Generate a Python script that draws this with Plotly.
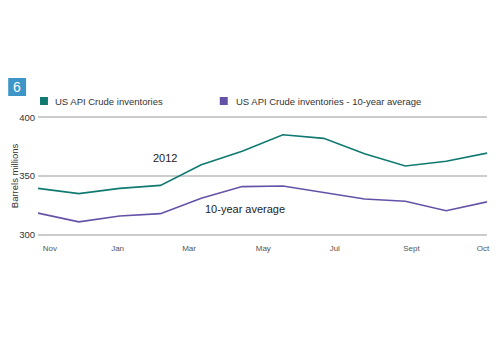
import plotly.graph_objects as go

months = ["Nov", "Dec", "Jan", "Feb", "Mar", "Apr", "May", "Jun", "Jul", "Aug", "Sep", "Oct"]
crude_2012 = [339.5, 335, 339.5, 342, 359.5, 371, 385, 382, 369, 358.5, 362.5, 369.5]
crude_avg = [318.5, 311, 316, 318, 331, 341, 341.5, 336, 330.5, 328.5, 320.5, 328]
tick_labels = ["Nov", "Jan", "Mar", "May", "Jul", "Sept", "Oct"]
tick_pos = [0.29, 1.95, 3.70, 5.52, 7.27, 9.15, 10.9]

GREEN = "#107a70"
PURPLE = "#6552a8"
FONT = "Liberation Sans, Arial, sans-serif"

PT, PB, PL, PR = 116, 236, 38, 490  # plot area in pixels

x = list(range(len(months)))

fig = go.Figure()
fig.add_trace(go.Scatter(x=x, y=crude_2012, mode="lines", name="US API Crude inventories",
                         line=dict(color=GREEN, width=1.6), showlegend=False))
fig.add_trace(go.Scatter(x=x, y=crude_avg, mode="lines", name="US API Crude inventories - 10-year average",
                         line=dict(color=PURPLE, width=1.6), showlegend=False))

fig.update_layout(
    width=500, height=350,
    margin=dict(l=PL, r=500 - PR, t=PT, b=350 - PB),
    paper_bgcolor="white", plot_bgcolor="white",
    font=dict(family=FONT, color="#333333", size=9),
    xaxis=dict(range=[0, 11], tickvals=tick_pos, ticktext=tick_labels, showgrid=False,
               zeroline=False, showline=False, ticks="", tickfont=dict(size=8, color="#555555"),
               ticklabelstandoff=6),
    yaxis=dict(range=[299, 401], tickvals=[300, 350, 400], showgrid=True, gridcolor="#cccccc",
               gridwidth=2, zeroline=False, showline=False, ticks="", tickfont=dict(size=9.5, color="#333"),
               ticklabelstandoff=2),
)

def px(xp):
    return (xp - PL) / (PR - PL)

def py(yp):
    return (PB - yp) / (PB - PT)

fig.update_layout(shapes=[
    dict(type="rect", xref="paper", yref="paper",
         x0=px(8), x1=px(26), y0=py(78), y1=py(96),
         fillcolor="#3d95c8", line=dict(width=0)),
    dict(type="rect", xref="paper", yref="paper",
         x0=px(40), x1=px(48), y0=py(97), y1=py(105),
         fillcolor=GREEN, line=dict(width=0)),
    dict(type="rect", xref="paper", yref="paper",
         x0=px(221), x1=px(229), y0=py(97), y1=py(105),
         fillcolor=PURPLE, line=dict(width=0)),
])

fig.add_annotation(x=px(17), y=py(87), xref="paper", yref="paper", text="6", showarrow=False,
                   font=dict(size=14, color="white", family=FONT), xanchor="center", yanchor="middle")
fig.add_annotation(x=px(53), y=py(101), xref="paper", yref="paper", text="US API Crude inventories",
                   showarrow=False, font=dict(size=9.5, color="#333"), xanchor="left", yanchor="middle")
fig.add_annotation(x=px(235), y=py(101), xref="paper", yref="paper",
                   text="US API Crude inventories - 10-year average",
                   showarrow=False, font=dict(size=9.5, color="#333"), xanchor="left", yanchor="middle")
fig.add_annotation(x=px(14), y=py(176), xref="paper", yref="paper", text="Barrels millions",
                   textangle=-90, showarrow=False, font=dict(size=9.5, color="#333"),
                   xanchor="center", yanchor="middle")
fig.add_annotation(x=px(166), y=py(158), xref="paper", yref="paper", text="2012",
                   showarrow=False, font=dict(size=11, color="#222"), xanchor="center", yanchor="middle")
fig.add_annotation(x=px(246), y=py(209), xref="paper", yref="paper", text="10-year average",
                   showarrow=False, font=dict(size=11, color="#222"), xanchor="center", yanchor="middle")

fig.write_html("out.html")
